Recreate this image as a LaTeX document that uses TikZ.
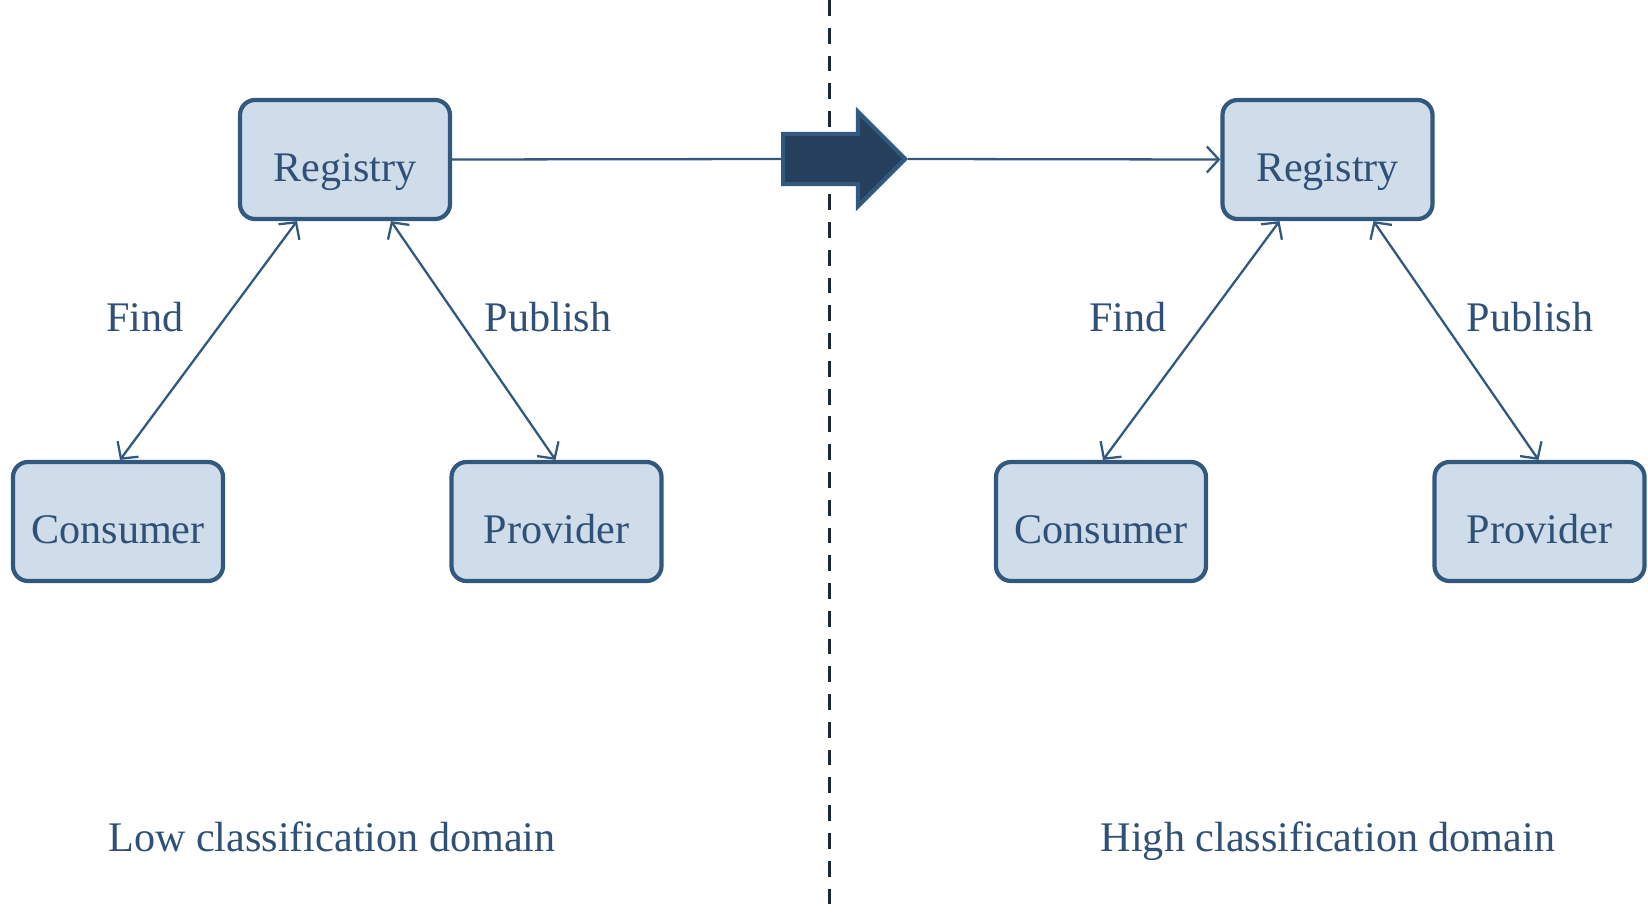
\documentclass[tikz,border=0pt]{standalone}
\usepackage{fontspec}
\setmainfont{Liberation Serif}
\usepackage{tikz}
\usetikzlibrary{shapes,arrows.meta,positioning,calc}
\usepackage{xcolor}
\definecolor{boxblue}{RGB}{51,88,126}
\definecolor{boxfill}{RGB}{207,220,233}
\definecolor{txtblue}{RGB}{47,80,119}
\definecolor{navy}{RGB}{38,63,92}
\definecolor{dashdark}{RGB}{26,40,56}

\begin{document}
\begin{tikzpicture}[font=\fontsize{12}{14}\selectfont, text=txtblue,
    comp/.style={rectangle, rounded corners=0.15cm, draw=boxblue, line width=1.2pt,
                 fill=boxfill, minimum width=2.10cm, minimum height=1.19cm,
                 text height=0.44cm, text depth=0cm},
    arr/.style={{Straight Barb[length=1.2mm,width=2.6mm]}-{Straight Barb[length=1.2mm,width=2.6mm]},
                boxblue, line width=0.65pt},
    lbl/.style={text=txtblue}]

    \useasboundingbox (0,0) rectangle (16.48,9.14);

    % Domain border
    \draw[dashdark, line width=0.85pt, dash pattern=on 4.5pt off 3.4pt] (8.29,9.14) -- (8.29,-0.05);

    % Low domain
    \node[comp] (regL) at (3.45,7.545) {Registry};
    \node[comp] (conL) at (1.18,3.925) {Consumer};
    \node[comp] (proL) at (5.565,3.925) {Provider};
    % High domain
    \node[comp] (regR) at (13.275,7.545) {Registry};
    \node[comp] (conR) at (11.01,3.925) {Consumer};
    \node[comp] (proR) at (15.395,3.925) {Provider};

    % Transfer
    \node[single arrow, draw=boxblue, fill=navy, line width=1.2pt, inner xsep=0pt,
          inner ysep=0.23cm, minimum height=1.22cm, single arrow head extend=0.22cm,
          anchor=tail] (xfer) at (7.81,7.55) {};

    \foreach \s in {L,R} {
        \draw[arr] ([xshift=-0.48cm]reg\s.south) -- ([xshift=0.02cm]con\s.north);
        \draw[arr] ([xshift=0.46cm]reg\s.south) -- ([xshift=-0.01cm]pro\s.north);
    }
    \draw[boxblue, line width=0.65pt] (regL.east) -- (xfer.tail);
    \draw[boxblue, line width=0.65pt, -{Straight Barb[length=1.2mm,width=2.6mm]}] (xfer.tip) -- (regR.west);

    \node[lbl] (findL) at (1.45,5.97) {Find};
    \node[lbl] (pubL) at (5.48,5.97) {Publish};
    \node[lbl] (findR) at (11.28,5.97) {Find};
    \node[lbl] (pubR) at (15.30,5.97) {Publish};

    \node[lbl] (lowdom) at (3.32,0.77) {Low classification domain};
    \node[lbl] (highdom) at (13.28,0.728) {High classification domain};
\end{tikzpicture}
\end{document}
